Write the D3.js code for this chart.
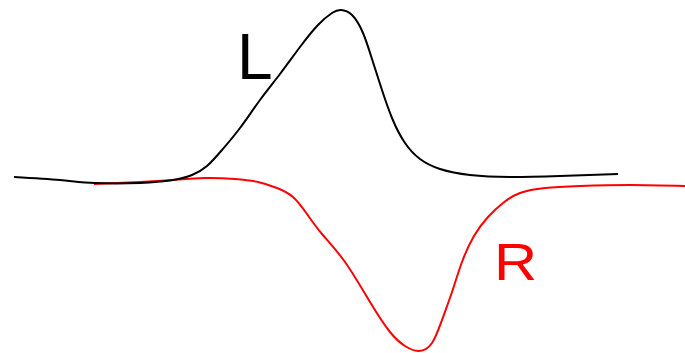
<!DOCTYPE html>
<html>
<head>
<meta charset="utf-8">
<script src="https://cdn.jsdelivr.net/npm/d3@7"></script>
<style>
  html, body { margin: 0; padding: 0; background: #fff; }
  svg { display: block; }
</style>
</head>
<body>
<div id="chart"></div>
<script>
const width = 685,
      height = 353;

// L trace (black), signal
const xL = [14, 60, 95, 140, 173, 192, 207, 222, 240, 260, 280, 300, 318, 332, 341, 352, 363, 372, 381, 392, 405, 420, 440, 470, 510, 560, 618];
const yL = [3, 0, -3, -3, 0, 5, 14, 30, 52, 80, 106, 133, 155, 167, 170, 165, 147, 121, 93, 62, 37, 21, 11, 5, 3, 4, 6];

// R trace (red)
const xR = [94, 140, 173, 205, 235, 258, 277, 293, 307, 322, 345, 370, 390, 405, 419, 432, 442, 452, 462, 474, 488, 503, 520, 545, 580, 630, 685];
const yR = [-4, -2, 0, 2, 1, -2, -8, -17, -34, -54, -82, -122, -152, -166, -171, -163, -140, -112, -82, -56, -37, -23, -13, -8, -6, -5, -6];

const labels = ["L", "R"];

const x = d3.scaleLinear().domain([0, 685]).range([0, width]);
const y = d3.scaleLinear().domain([-173, 180]).range([height, 0]);

const svg = d3.select("#chart").append("svg")
  .attr("width", width)
  .attr("height", height);

const line = d3.line()
  .x(d => x(d[0]))
  .y(d => y(d[1]))
  .curve(d3.curveNatural);

svg.append("path")
  .datum(d3.zip(xR, yR))
  .attr("d", line)
  .attr("fill", "none")
  .attr("stroke", "#ff0000")
  .attr("stroke-width", 2);

svg.append("path")
  .datum(d3.zip(xL, yL))
  .attr("d", line)
  .attr("fill", "none")
  .attr("stroke", "#000")
  .attr("stroke-width", 2);

// labels
svg.append("text")
  .attr("x", x(237))
  .attr("y", y(180 - 79))
  .attr("font-family", "Liberation Sans, Arial, sans-serif")
  .attr("font-size", 64)
  .attr("fill", "#000")
  .text(labels[0]);

// the R in the picture is a little wider than the font
svg.append("text")
  .attr("transform", `translate(${x(494)},${y(180 - 280)}) scale(1.15,1)`)
  .attr("font-family", "Liberation Sans, Arial, sans-serif")
  .attr("font-size", 52)
  .attr("fill", "#ff0000")
  .text(labels[1]);
</script>
</body>
</html>
